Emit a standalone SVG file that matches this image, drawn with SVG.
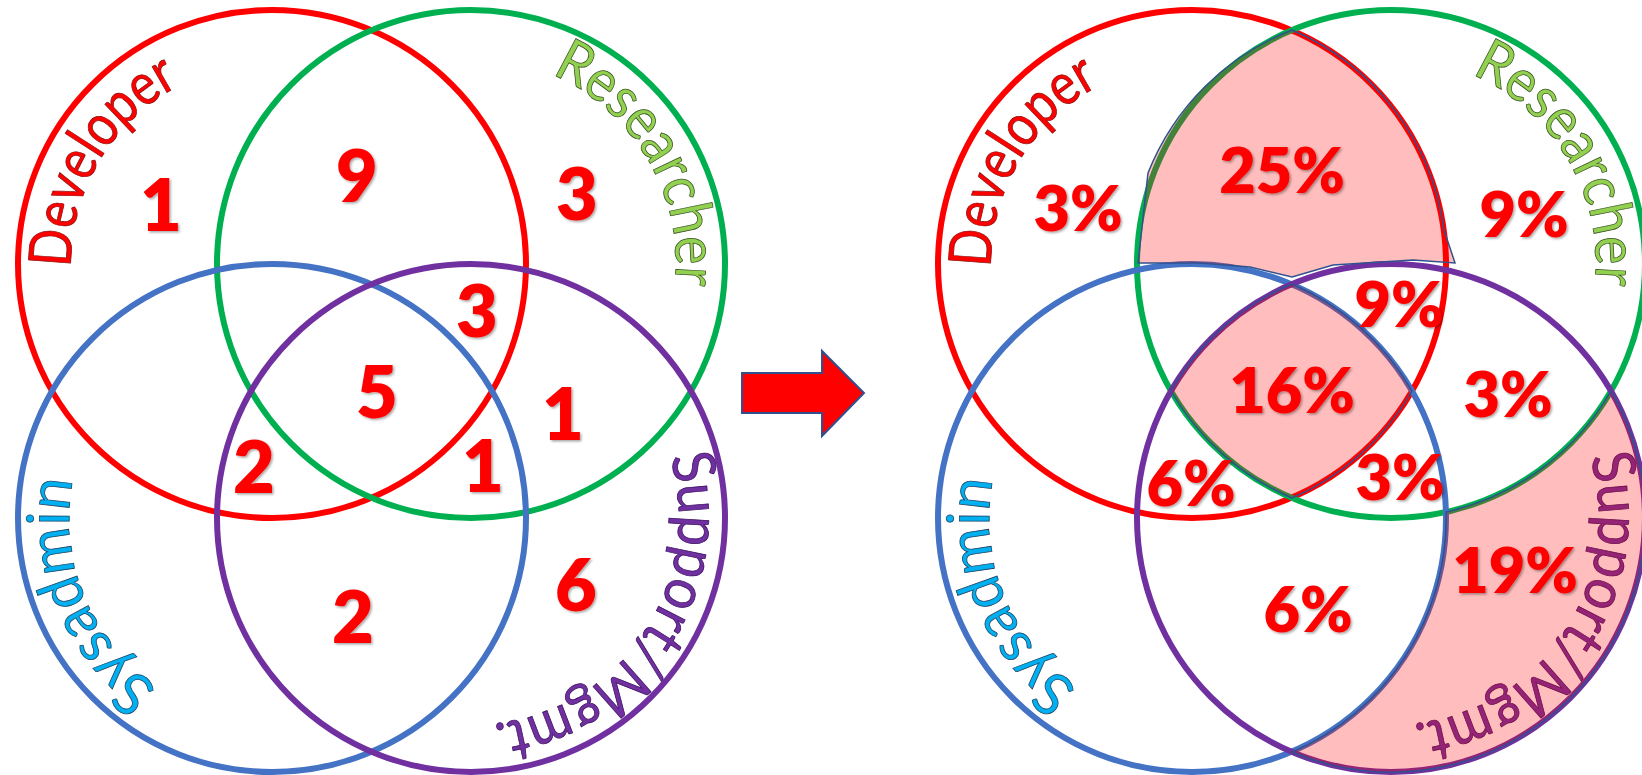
<svg xmlns="http://www.w3.org/2000/svg" width="1642" height="775" viewBox="0 0 1642 775">
<defs>
<style>
.ring{fill:none;stroke-width:6}
.red{stroke:#FF0000}.green{stroke:#00B050}.blue{stroke:#4472C4}.purple{stroke:#7030A0}
.lbl{font-family:Lato,"Open Sans","Liberation Sans",sans-serif;font-size:59px;stroke-width:0.8px}
.num{font-family:Lato,"Liberation Sans",sans-serif;font-weight:800;fill:#FF0000;text-anchor:middle;filter:url(#sh)}
.n1{font-size:72px}.n2{font-size:63px}
.ov{fill:#FF0000;fill-opacity:0.26;stroke:#2F528F;stroke-width:1.5}
</style>
<filter id="sh" x="-20%" y="-20%" width="150%" height="150%"><feDropShadow dx="1.5" dy="1.5" stdDeviation="1.2" flood-color="#000" flood-opacity="0.35"/></filter>
<path id="pDev" d="M71.03,267.51 A201,201 0 0 1 472.97,260.49 A201,201 0 0 1 71.03,267.51"/>
<path id="pRes" d="M551.49,74.38 A206,206 0 0 1 390.51,453.62 A206,206 0 0 1 551.49,74.38"/>
<path id="pSys" d="M157.93,687.12 A204,204 0 0 1 386.07,348.88 A204,204 0 0 1 157.93,687.12"/>
<path id="pSup" d="M669.91,457.19 A208,208 0 0 1 272.09,578.81 A208,208 0 0 1 669.91,457.19"/>
</defs>
<rect width="1642" height="775" fill="#FFFFFF"/>

<g id="left-venn">
  <g id="left-circles">
    <circle class="ring red" cx="272" cy="264" r="254"/>
    <circle class="ring green" cx="471" cy="264" r="254"/>
    <circle class="ring blue" cx="272" cy="518" r="254"/>
    <circle class="ring purple" cx="471" cy="518" r="254"/>
  </g>
  <g id="left-labels">
    <text class="lbl" fill="#FF0000" stroke="#8B1010"><textPath href="#pDev" textLength="223" lengthAdjust="spacingAndGlyphs">Developer</textPath></text>
    <text class="lbl" fill="#92D050" stroke="#3B5323"><textPath href="#pRes" textLength="261" lengthAdjust="spacingAndGlyphs">Researcher</textPath></text>
    <text class="lbl" fill="#00B0F0" stroke="#1F3F5F"><textPath href="#pSys" textLength="237" lengthAdjust="spacingAndGlyphs">Sysadmin</textPath></text>
    <text class="lbl" fill="#7030A0" stroke="#3A1060"><textPath href="#pSup" textLength="365" lengthAdjust="spacingAndGlyphs">Support/Mgmt.</textPath></text>
  </g>
  <g id="left-counts" class="num n1">
    <text x="161" y="231">1</text>
    <text x="357" y="202">9</text>
    <text x="577" y="220">3</text>
    <text x="477" y="337">3</text>
    <text x="377" y="418">5</text>
    <text x="563" y="440">1</text>
    <text x="254" y="493">2</text>
    <text x="483" y="492">1</text>
    <text x="576" y="611">6</text>
    <text x="353" y="643">2</text>
  </g>
</g>

<g id="arrow">
  <polygon points="742,373 822,373 822,351 864,393 822,436 822,413 742,413" fill="#FF0000" stroke="#2F528F" stroke-width="2"/>
</g>

<g id="right-venn">
  <g id="right-circles">
    <circle class="ring red" cx="1192" cy="264" r="254"/>
    <circle class="ring green" cx="1391" cy="264" r="254"/>
    <circle class="ring blue" cx="1192" cy="518" r="254"/>
    <circle class="ring purple" cx="1391" cy="518" r="254"/>
  </g>
  <g id="right-labels" transform="translate(920,0)">
    <text class="lbl" fill="#FF0000" stroke="#8B1010"><textPath href="#pDev" textLength="223" lengthAdjust="spacingAndGlyphs">Developer</textPath></text>
    <text class="lbl" fill="#92D050" stroke="#3B5323"><textPath href="#pRes" textLength="261" lengthAdjust="spacingAndGlyphs">Researcher</textPath></text>
    <text class="lbl" fill="#00B0F0" stroke="#1F3F5F"><textPath href="#pSys" textLength="237" lengthAdjust="spacingAndGlyphs">Sysadmin</textPath></text>
    <text class="lbl" fill="#7030A0" stroke="#3A1060"><textPath href="#pSup" textLength="365" lengthAdjust="spacingAndGlyphs">Support/Mgmt.</textPath></text>
  </g>
  <g id="highlights">
    <path class="ov" d="M1292,30 A254,254 0 0 0 1148,173 L1138,263 L1200,263 L1250,267 L1292,277 L1333,265 L1413,260 L1455,263 L1444,230 A254,254 0 0 0 1292,30 Z"/>
    <path class="ov" d="M1292,284 A254,254 0 0 0 1171,391 A254,254 0 0 0 1292,498 A254,254 0 0 0 1412,391 A254,254 0 0 0 1292,284 Z"/>
    <path class="ov" d="M1446,512 A254,254 0 0 0 1611,391 A254,254 0 0 1 1292,752 A254,254 0 0 0 1446,512 Z"/>
  </g>
  <g id="right-shares" class="num n2">
    <text x="1078" y="231">3%</text>
    <text x="1282" y="193">25%</text>
    <text x="1524" y="237">9%</text>
    <text x="1399" y="327">9%</text>
    <text x="1292" y="413">16%</text>
    <text x="1508" y="417">3%</text>
    <text x="1191" y="506">6%</text>
    <text x="1400" y="500">3%</text>
    <text x="1515" y="593">19%</text>
    <text x="1308" y="632">6%</text>
  </g>
</g>
</svg>
